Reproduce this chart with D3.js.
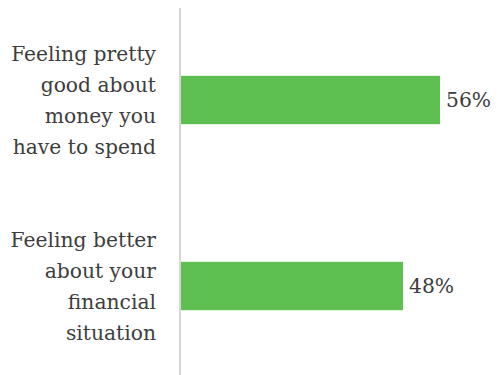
<!DOCTYPE html>
<html>
<head>
<meta charset="utf-8">
<script src="https://cdn.jsdelivr.net/npm/d3@7"></script>
<style>
  body { margin: 0; background: #fff; }
  text { font-family: Georgia, "DejaVu Serif", serif; fill: #3d3d3d; }
</style>
</head>
<body>
<svg id="chart" width="499" height="375"></svg>
<script>
let categories = [
    ['Feeling pretty', 'good about', 'money you', 'have to spend'],
    ['Feeling better', 'about your', 'financial', 'situation'],
];
let values = [56, 48];
let valueLabels = ['56%', '48%'];

let svg = d3.select('#chart');
let left = 181;

let x = d3.scaleLinear()
    .domain([0, 60])
    .range([left, left + 277.5]);

let y = d3.scaleBand()
    .domain(d3.range(categories.length))
    .range([7, 379])
    .paddingInner(0.74)
    .paddingOuter(0.37);

let fontSize = 20.3;
let lineH = 31;

svg.selectAll('rect.bar')
    .data(values)
    .enter().append('rect')
    .attr('class', 'bar')
    .attr('x', x(0))
    .attr('y', (d, i) => y(i))
    .attr('width', d => x(d) - x(0))
    .attr('height', y.bandwidth())
    .attr('fill', '#5ec050');

svg.selectAll('text.value')
    .data(values)
    .enter().append('text')
    .attr('class', 'value')
    .attr('x', d => x(d) + 6)
    .attr('y', (d, i) => y(i) + y.bandwidth() / 2)
    .attr('dy', '0.35em')
    .style('font-size', fontSize + 'px')
    .text((d, i) => valueLabels[i]);

let labels = svg.selectAll('text.cat')
    .data(categories)
    .enter().append('text')
    .attr('class', 'cat')
    .attr('text-anchor', 'end')
    .style('font-size', fontSize + 'px');

labels.each(function (lines, i) {
    let mid = y(i) + y.bandwidth() / 2;
    let top = mid - (lines.length - 1) * lineH / 2;
    d3.select(this).selectAll('tspan')
        .data(lines)
        .enter().append('tspan')
        .attr('x', 156)
        .attr('y', (d, j) => top + j * lineH)
        .attr('dy', '0.35em')
        .text(d => d);
});

svg.append('line')
    .attr('x1', 180).attr('x2', 180)
    .attr('y1', 8).attr('y2', 375)
    .attr('stroke', '#d6d6d6')
    .attr('stroke-width', 2);
</script>
</body>
</html>
